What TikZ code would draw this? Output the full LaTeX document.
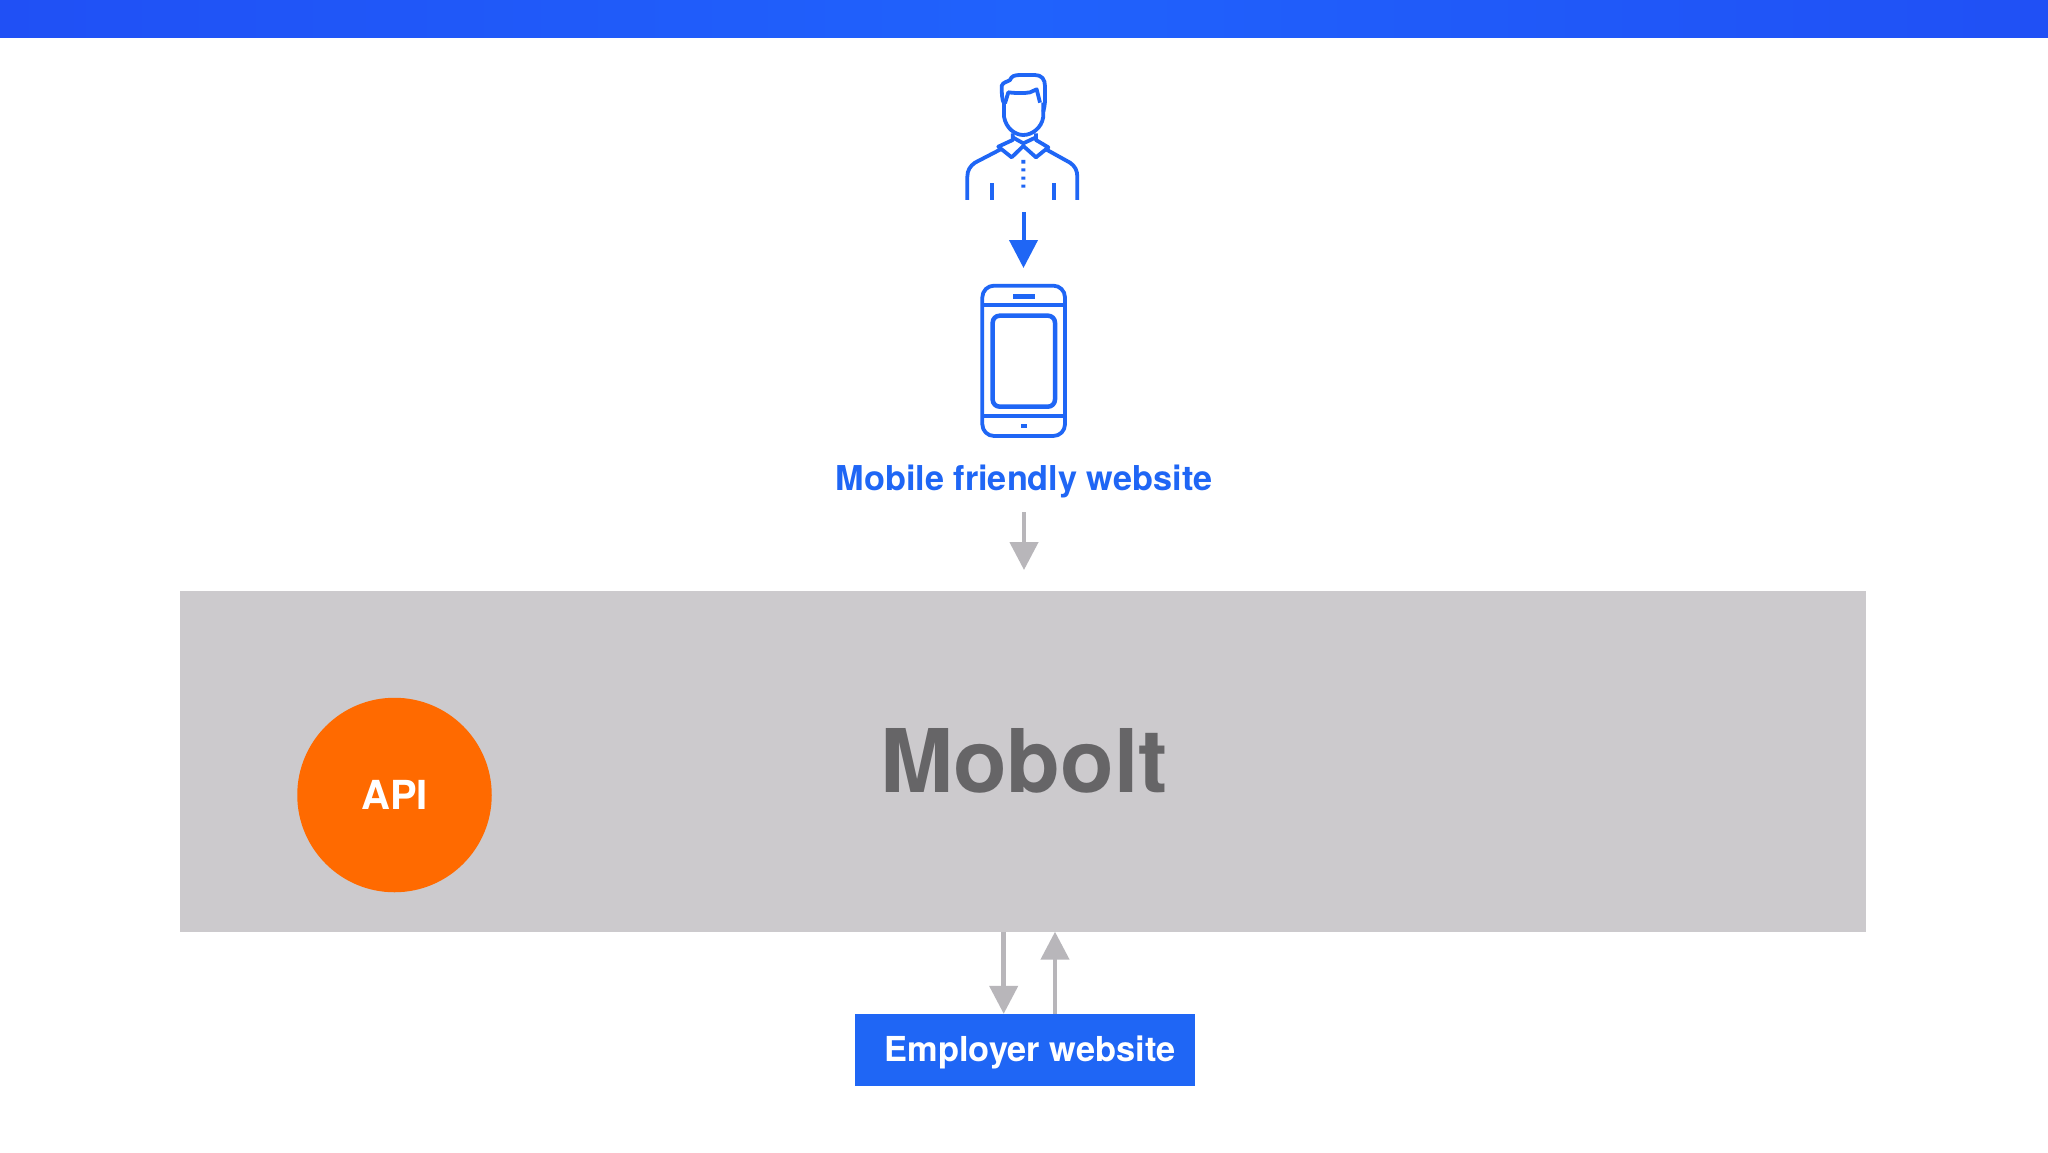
\documentclass[tikz,border=0pt]{standalone}
\usepackage{fontspec}
\setmainfont{TeX Gyre Heros}
\usetikzlibrary{arrows.meta,calc}
\definecolor{brandblue}{HTML}{1F66F5}
\definecolor{boxgray}{HTML}{CCCACD}
\definecolor{arrowgray}{HTML}{B8B6BA}
\definecolor{textgray}{HTML}{666567}
\definecolor{apiorange}{HTML}{FF6A00}
\definecolor{barside}{HTML}{2050F5}
\definecolor{barmid}{HTML}{2062FC}
\tikzset{
  iconline/.style={draw=brandblue,line width=3.8pt,line join=round,fill=none},
  bluearrow/.style={draw=brandblue,line width=4pt,-{Triangle[length=28pt,width=28pt,fill=brandblue]}},
  grayarrow/.style={draw=arrowgray,line width=4.5pt,-{Triangle[length=28pt,width=28pt,fill=arrowgray]}},
  platform/.style={fill=boxgray,inner sep=0pt,minimum width=1686pt,minimum height=341pt,text=textgray,font=\bfseries\fontsize{87.8}{88}\selectfont},
  apicircle/.style={circle,fill=apiorange,inner sep=0pt,minimum size=194.5pt,text=white,font=\bfseries\fontsize{40}{40}\selectfont},
  employerbox/.style={fill=brandblue,inner sep=0pt,minimum width=340pt,minimum height=72pt,text=white,font=\bfseries\fontsize{34.4}{34}\selectfont},
  sitelabel/.style={inner sep=0pt,text=brandblue,font=\bfseries\fontsize{34.25}{34}\selectfont},
}
\begin{document}
\begin{tikzpicture}[x=1pt,y=-1pt]
\useasboundingbox (0,0) rectangle (2048,1152);
\fill[white] (0,0) rectangle (2048,1152);
\shade[left color=barside,right color=barside,middle color=barmid] (0,0) rectangle (2048,37.5);

% person icon
\begin{scope}[shift={(930,60)},x=0.3333pt,y=-0.3333pt]
  \draw[iconline] (222,155) -- (222,130) .. controls (216,120) and (215,100) .. (215,78) .. controls (218,66) and (232,66) .. (240,60) .. controls (244,48) and (255,45) .. (270,45) -- (315,45) .. controls (335,45) and (345,58) .. (345,78) -- (345,125) .. controls (345,135) and (342,145) .. (340,155);
  \draw[iconline] (225,130) -- (235,97) .. controls (260,100) and (285,100) .. (300,97) -- (320,88) -- (330,128);
  \draw[iconline] (222,130) -- (222,170) .. controls (228,205) and (255,225) .. (280,225) .. controls (305,225) and (335,205) .. (340,170) -- (340,128);
  \draw[iconline] (248,220) -- (248,240) -- (205,260) -- (245,292) -- (280,258) -- (318,292) -- (355,262) -- (318,240) -- (318,220);
  \draw[iconline] (248,232) -- (280,250) -- (318,232);
  \draw[iconline] (212,268) -- (135,308) .. controls (120,318) and (112,332) .. (112,350) -- (112,420);
  \draw[iconline] (348,268) -- (420,308) .. controls (435,318) and (442,332) .. (442,350) -- (442,420);
  \draw[iconline] (185,370) -- (185,420);
  \draw[iconline] (373,370) -- (373,420);
  \fill[brandblue] (274,300) rectangle (286,311) (274,325) rectangle (286,334) (274,350) rectangle (286,359) (274,374) rectangle (286,383);
\end{scope}
\coordinate (personfoot) at (1023.5,212);

% phone icon
\begin{scope}[shift={(950,270)},x=0.3333pt,y=-0.3333pt]
  \draw[iconline] (97,82) arc[start angle=180,end angle=90,x radius=35,y radius=-35] -- (310,47) arc[start angle=90,end angle=0,x radius=35,y radius=-35] -- (345,463) arc[start angle=0,end angle=-90,x radius=35,y radius=-35] -- (132,498) arc[start angle=-90,end angle=-180,x radius=35,y radius=-35] -- cycle;
  \draw[iconline] (97,105) -- (345,105);
  \draw[iconline] (97,438) -- (345,438);
  \fill[brandblue] (190,72) rectangle (255,88);
  \fill[brandblue] (212,463) rectangle (232,475);
  \draw[iconline,line width=4.5pt,rounded corners=7pt] (128,137) rectangle (315,410);
\end{scope}
\coordinate (phonetop) at (1023.5,268);

\node[sitelabel] (site) at (1024,481) {Mobile friendly website};
\node[platform] (mobolt) at (1023,761) {\hspace*{2pt}Mobolt};
\node[apicircle] (api) at (394.5,795) {API};
\node[employerbox] (employer) at (1025,1050) {\hspace*{10pt}\raisebox{-11.7pt}[0pt][0pt]{Employer website}};

\coordinate (sitefoot) at (1024,512);
\coordinate (moboltgap) at (1024,570);
\coordinate (downx) at (1003.7,0);
\coordinate (upx) at (1055,0);

\draw[bluearrow] (personfoot) -- (phonetop);
\draw[grayarrow] (sitefoot) -- (moboltgap);
\draw[grayarrow] (downx |- mobolt.south) -- (downx |- employer.north);
\draw[grayarrow] (upx |- employer.north) -- (upx |- mobolt.south);
\end{tikzpicture}
\end{document}
